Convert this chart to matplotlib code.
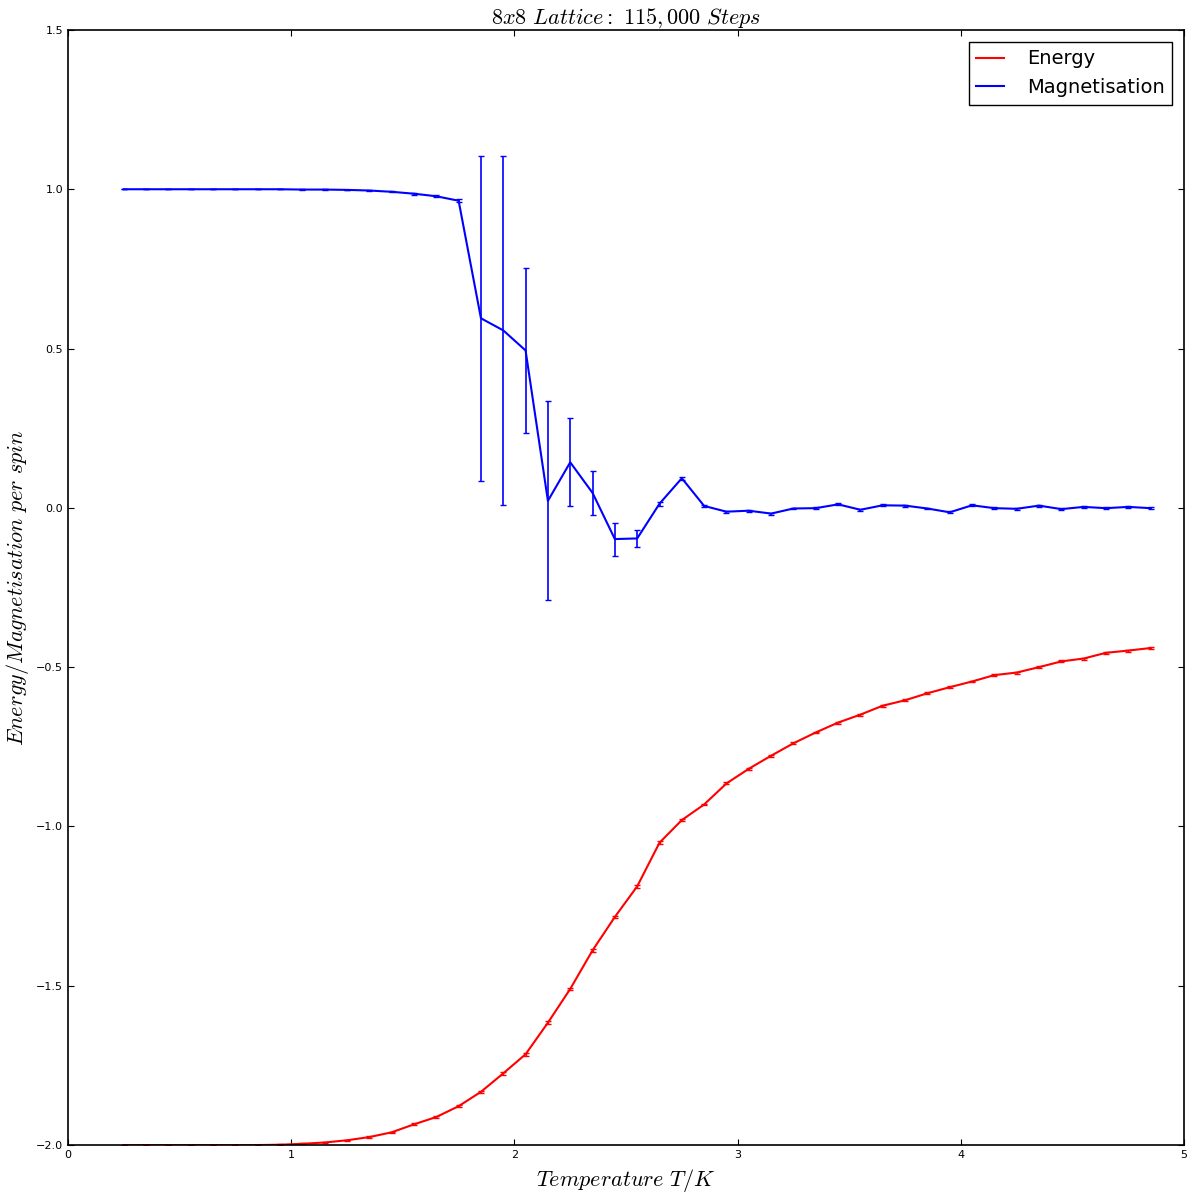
import numpy as np
import matplotlib
matplotlib.use("Agg")
import matplotlib.pyplot as plt

# temperatures sampled every 0.1 from 0.25 to 4.85
temps = [0.25, 0.35, 0.45, 0.55, 0.65, 0.75, 0.85, 0.95, 1.05, 1.15,
         1.25, 1.35, 1.45, 1.55, 1.65, 1.75, 1.85, 1.95, 2.05, 2.15,
         2.25, 2.35, 2.45, 2.55, 2.65, 2.75, 2.85, 2.95, 3.05, 3.15,
         3.25, 3.35, 3.45, 3.55, 3.65, 3.75, 3.85, 3.95, 4.05, 4.15,
         4.25, 4.35, 4.45, 4.55, 4.65, 4.75, 4.85]

energy = [-2.000, -2.000, -2.000, -2.000, -2.000, -2.000, -2.000, -1.999, -1.996, -1.992,
          -1.985, -1.975, -1.960, -1.935, -1.912, -1.878, -1.833, -1.775, -1.715, -1.616,
          -1.510, -1.389, -1.284, -1.188, -1.051, -0.980, -0.931, -0.865, -0.819, -0.778,
          -0.739, -0.705, -0.674, -0.649, -0.621, -0.604, -0.582, -0.563, -0.545, -0.525,
          -0.517, -0.500, -0.482, -0.473, -0.455, -0.448, -0.440]
energy_err = [0.0005, 0.0005, 0.0005, 0.0005, 0.0005, 0.0005, 0.0005, 0.001, 0.001, 0.001,
              0.002, 0.002, 0.002, 0.003, 0.003, 0.003, 0.003, 0.004, 0.004, 0.004,
              0.004, 0.004, 0.004, 0.004, 0.004, 0.003, 0.003, 0.003, 0.003, 0.003,
              0.003, 0.003, 0.003, 0.003, 0.003, 0.003, 0.003, 0.003, 0.003, 0.003,
              0.003, 0.003, 0.003, 0.003, 0.003, 0.003, 0.003]

magnet = [1.000, 1.000, 1.000, 1.000, 1.000, 1.000, 1.000, 1.000, 0.999, 0.999,
          0.998, 0.996, 0.992, 0.986, 0.978, 0.964, 0.595, 0.557, 0.494, 0.022,
          0.143, 0.047, -0.098, -0.096, 0.013, 0.093, 0.006, -0.012, -0.009, -0.018,
          -0.002, -0.001, 0.011, -0.006, 0.008, 0.007, -0.002, -0.014, 0.008, -0.001,
          -0.003, 0.007, -0.004, 0.003, -0.001, 0.003, -0.001]
magnet_err = [0.0, 0.0, 0.0, 0.0, 0.0, 0.0, 0.0, 0.0, 0.001, 0.001,
              0.001, 0.002, 0.002, 0.003, 0.003, 0.004, 0.510, 0.548, 0.258, 0.312,
              0.138, 0.070, 0.052, 0.028, 0.006, 0.005, 0.004, 0.003, 0.003, 0.003,
              0.003, 0.003, 0.003, 0.003, 0.003, 0.003, 0.003, 0.003, 0.003, 0.003,
              0.003, 0.003, 0.003, 0.003, 0.003, 0.003, 0.003]

plt.rcParams["mathtext.fontset"] = "cm"
plt.rcParams["xtick.direction"] = "in"
plt.rcParams["ytick.direction"] = "in"
plt.rcParams["xtick.top"] = True
plt.rcParams["ytick.right"] = True

fig = plt.figure(figsize=(11.93, 11.98), dpi=100)
ax = fig.add_axes([0.057, 0.0442, 0.9355, 0.9308])

ax.plot(temps, energy, "-", color="red", lw=1.5, label="Energy")
ax.errorbar(temps, energy, yerr=energy_err, fmt="none", ecolor="red",
            elinewidth=1.0, capsize=2)
ax.plot(temps, magnet, "-", color="blue", lw=1.5, label="Magnetisation")
ax.errorbar(temps, magnet, yerr=magnet_err, fmt="none", ecolor="blue",
            elinewidth=1.2, capsize=2)

ax.set_xlim(0, 5)
ax.set_ylim(-2.0, 1.5)
ax.set_xticks([0, 1, 2, 3, 4, 5])
ax.set_yticks(np.arange(-2.0, 1.51, 0.5))
ax.tick_params(labelsize=8, length=4, width=0.8)
for s in ax.spines.values():
    s.set_linewidth(1.2)

ax.set_title(r"$8x8\ Lattice:\ 115,000\ Steps$", fontsize=16, pad=4)
ax.set_xlabel(r"$Temperature\ T/K$", fontsize=16, labelpad=5)
ax.set_ylabel(r"$Energy/Magnetisation\ per\ spin$", fontsize=16)
ax.yaxis.set_label_coords(-0.033, 0.5)

leg = ax.legend(loc="upper right", fontsize=14, fancybox=False,
                edgecolor="black", framealpha=1, borderaxespad=0.6,
                handlelength=1.4, handletextpad=1.2)
leg.get_frame().set_linewidth(1.0)

fig.savefig("out.png", dpi=100)
